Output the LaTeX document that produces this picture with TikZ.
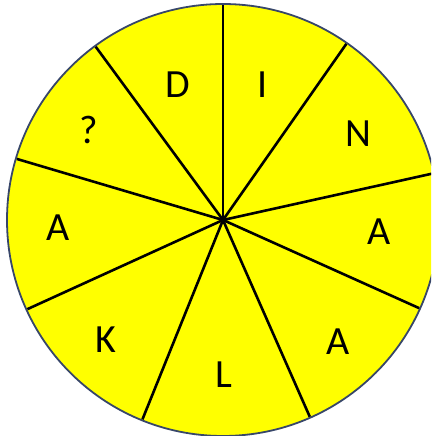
\documentclass[tikz,border=0pt]{standalone}
\usepackage{fontspec}
\setmainfont{Carlito}
\definecolor{wheelfill}{RGB}{255,255,0}
\definecolor{rimcol}{RGB}{55,70,105}
\begin{document}
\begin{tikzpicture}[x=1pt,y=-1pt,
  spoke/.style={line width=2.6pt,black},
  rim/.style={line width=1.8pt,draw=rimcol,fill=wheelfill},
  letter/.style={font=\fontsize{40}{40}\selectfont,inner sep=0pt}]
\useasboundingbox (0,0) rectangle (431,436);
\clip (0,0) rectangle (431,436);
\coordinate (c) at (223,220);
\draw[rim] (c) circle[radius=216];
\foreach \a in {90,55,12.5,-24.2,-66.2,-112,-155.5,163.5,126.3}
  \draw[spoke] (c) -- ++({215*cos(\a)},{-215*sin(\a)});
\node[letter] (d) at (178,85) {D};
\node[letter] (i) at (263,85) {I};
\node[letter] (n) at (358,134) {N};
\node[letter] (a1) at (379,232) {A};
\node[letter] (a2) at (338,342) {A};
\node[letter] (l) at (224,375) {L};
\node[letter] (k) at (106,340) {K};
\node[letter] (a3) at (58,228) {A};
\node[letter] (q) at (89,130) {?};
\end{tikzpicture}
\end{document}
